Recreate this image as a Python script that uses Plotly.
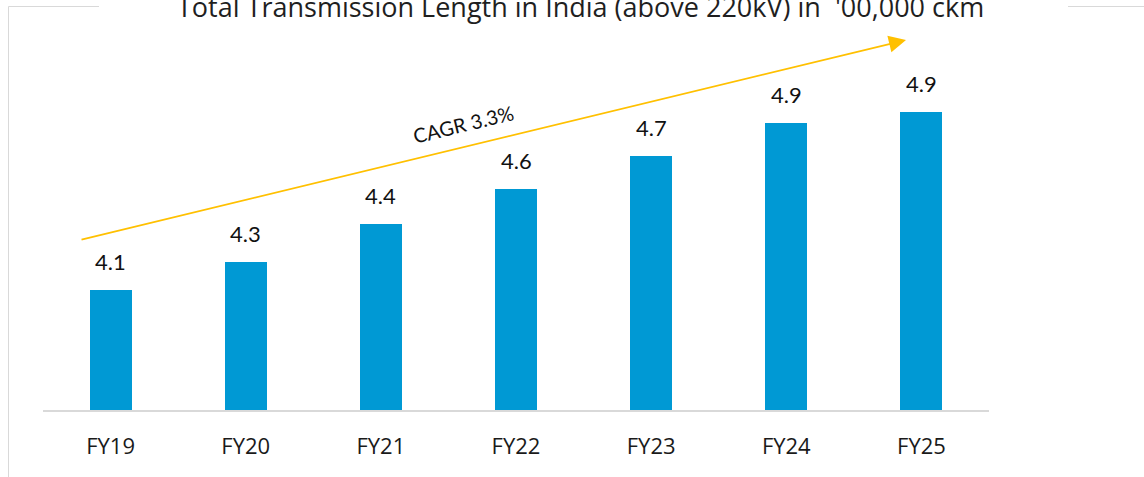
import plotly.graph_objects as go

# Total transmission length in India (above 220 kV), in lakh circuit-km
years = ["FY19", "FY20", "FY21", "FY22", "FY23", "FY24", "FY25"]
length_lakh_ckm = [4.13, 4.26, 4.43, 4.59, 4.74, 4.89, 4.94]
cagr_label = "CAGR 3.3%"
title_text = "Total Transmission Length in India (above 220kV) in  '00,000 ckm"

W, H = 1144, 477
L, R, T, B = 43, 155, 30, 67
plot_w, plot_h = W - L - R, H - T - B


def px_x(px):
    return (px - L) / plot_w


def px_y(py):
    return (H - B - py) / plot_h


bar_color = "#0099D4"
axis_grey = "#D9D9D9"
arrow_color = "#FFC000"
num_font = "Lato, 'Noto Sans', sans-serif"
txt_font = "'Open Sans', 'Noto Sans', sans-serif"

fig = go.Figure(
    go.Bar(
        x=years,
        y=length_lakh_ckm,
        marker=dict(color=bar_color, line=dict(width=0)),
        width=0.31,
        hoverinfo="skip",
    )
)

annotations = []
# value labels above each bar
for yr, v in zip(years, length_lakh_ckm):
    annotations.append(dict(
        x=yr, y=v, xref="x", yref="y",
        text=f"{v:.1f}", showarrow=False,
        yanchor="bottom", yshift=13,
        font=dict(family=num_font, size=22, color="#111111"),
    ))

# growth arrow
annotations.append(dict(
    x=px_x(906), y=px_y(40), xref="paper", yref="paper",
    ax=80 - 906, ay=240 - 40, axref="pixel", ayref="pixel",
    text="", showarrow=True,
    arrowhead=2, arrowsize=1.9, arrowwidth=1.8, arrowcolor=arrow_color,
    standoff=0, startstandoff=0,
))
annotations.append(dict(
    x=px_x(463), y=px_y(124), xref="paper", yref="paper",
    text=cagr_label, showarrow=False, textangle=-13.6,
    xanchor="center", yanchor="middle",
    font=dict(family=num_font, size=20, color="#111111"),
))

# chart title
annotations.append(dict(
    x=px_x(580), y=px_y(7), xref="paper", yref="paper",
    text=title_text, showarrow=False,
    xanchor="center", yanchor="middle",
    font=dict(family=txt_font, size=27, color="#1F1F1F"),
))

shapes = [
    # outer frame fragments
    dict(type="line", xref="paper", yref="paper",
         x0=px_x(8.5), x1=px_x(8.5), y0=px_y(6.5), y1=px_y(480),
         line=dict(color=axis_grey, width=1)),
    dict(type="line", xref="paper", yref="paper",
         x0=px_x(8.5), x1=px_x(99), y0=px_y(6.5), y1=px_y(6.5),
         line=dict(color=axis_grey, width=1)),
    dict(type="line", xref="paper", yref="paper",
         x0=px_x(1068), x1=px_x(1150), y0=px_y(6.5), y1=px_y(6.5),
         line=dict(color=axis_grey, width=1)),
]

y_min = 3.585
y_max = y_min + plot_h / 220.0

fig.update_layout(
    width=W, height=H,
    margin=dict(l=L, r=R, t=T, b=B, pad=0),
    paper_bgcolor="white", plot_bgcolor="white",
    showlegend=False,
    annotations=annotations,
    shapes=shapes,
    bargap=0,
)
fig.update_xaxes(
    showgrid=False, zeroline=False,
    showline=True, linecolor=axis_grey, linewidth=2,
    ticks="", ticklabelstandoff=16,
    tickfont=dict(family=txt_font, size=22, color="#1A1A1A"),
)
fig.update_yaxes(
    range=[y_min, y_max], visible=False, showgrid=False, zeroline=False,
)

fig.write_html("out.html")
